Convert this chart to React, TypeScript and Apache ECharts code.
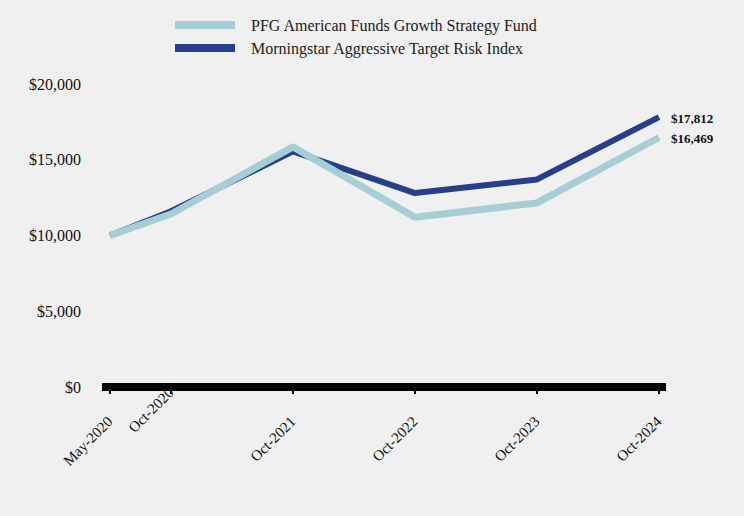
import React, { useEffect, useRef } from "react";
import * as echarts from "echarts";

const dateLabels = ["May-2020", "Oct-2020", "Oct-2021", "Oct-2022", "Oct-2023", "Oct-2024"];
const xPositions = [0, 0.5, 1.5, 2.5, 3.5, 4.5];
const fundValues = [10000, 11420, 15850, 11200, 12150, 16469];
const indexValues = [10000, 11600, 15550, 12800, 13700, 17812];
const yTicks = [0, 5000, 10000, 15000, 20000];

const fundName = "PFG American Funds Growth Strategy Fund";
const indexName = "Morningstar Aggressive Target Risk Index";

const fmt = (v: number) => "$" + v.toLocaleString("en-US");

export default function App() {
  const ref = useRef<HTMLDivElement>(null);
  useEffect(() => {
    if (!ref.current) return;
    const chart = echarts.init(ref.current, null, { renderer: "svg" });
    const serif = "'Liberation Serif', 'Times New Roman', serif";
    const mk = (vals: number[]) => xPositions.map((x, i) => [x, vals[i]]);
    const labelFor = (v: number) => {
      const i = xPositions.findIndex((p) => Math.abs(p - v) < 1e-6);
      return i >= 0 ? dateLabels[i] : "";
    };
    const mainLabelPos = xPositions.filter((_, i) => i !== 1);
    const raisedLabelPos = [xPositions[1]];
    const xMin = -8 / 122;
    const xMax = 4.5 + 7 / 122;
    const labelStyle = {
      rotate: 45,
      fontSize: 15,
      fontFamily: serif,
      color: "#111",
      formatter: labelFor,
    };
    chart.setOption({
      animation: false,
      backgroundColor: "#f0f0f0",
      textStyle: { fontFamily: serif },
      legend: {
        orient: "vertical",
        left: 170,
        top: 12,
        itemWidth: 60,
        itemHeight: 8,
        itemGap: 7,
        icon: "rect",
        data: [fundName, indexName],
        textStyle: { fontFamily: serif, fontSize: 16, color: "#222", padding: [0, 0, 0, 11] },
      },
      grid: { left: 102, right: 78, top: 84, bottom: 129, containLabel: false },
      xAxis: [
        {
          type: "value",
          min: xMin,
          max: xMax,
          splitLine: { show: false },
          axisLine: { show: true, lineStyle: { color: "#000", width: 8, cap: "butt" } },
          axisTick: {
            show: true,
            customValues: xPositions,
            length: 7,
            lineStyle: { color: "#000", width: 2 },
          },
          axisLabel: { ...labelStyle, customValues: mainLabelPos, margin: 32 },
        },
        {
          type: "value",
          position: "bottom",
          min: xMin,
          max: xMax,
          splitLine: { show: false },
          axisLine: { show: false },
          axisTick: { show: false },
          axisLabel: { ...labelStyle, customValues: raisedLabelPos, margin: 3 },
        },
      ],
      yAxis: {
        type: "value",
        min: 0,
        max: 20000,
        interval: 5000,
        axisLine: { show: false },
        axisTick: { show: false },
        splitLine: { show: false },
        axisLabel: {
          margin: 21,
          fontSize: 16,
          fontFamily: serif,
          color: "#111",
          formatter: (v: number) => (yTicks.includes(v) ? fmt(v) : ""),
        },
      },
      series: [
        {
          name: indexName,
          type: "line",
          data: mk(indexValues),
          symbol: "none",
          z: 2,
          color: "#253f8c",
          lineStyle: { color: "#253f8c", width: 6 },
          endLabel: {
            show: true,
            formatter: (p: any) => fmt(p.value[1]),
            fontFamily: serif,
            fontSize: 13,
            fontWeight: "bold",
            color: "#111",
            distance: 12,
            offset: [0, 1],
          },
        },
        {
          name: fundName,
          type: "line",
          data: mk(fundValues),
          symbol: "none",
          z: 3,
          color: "#a5cfd5",
          lineStyle: { color: "#a5cfd5", width: 7 },
          endLabel: {
            show: true,
            formatter: (p: any) => fmt(p.value[1]),
            fontFamily: serif,
            fontSize: 13,
            fontWeight: "bold",
            color: "#111",
            distance: 12,
            offset: [0, 1],
          },
        },
      ],
    });
    return () => chart.dispose();
  }, []);
  return (
    <div
      ref={ref}
      style={{ position: "fixed", left: 0, top: 0, width: 744, height: 516 }}
    />
  );
}
